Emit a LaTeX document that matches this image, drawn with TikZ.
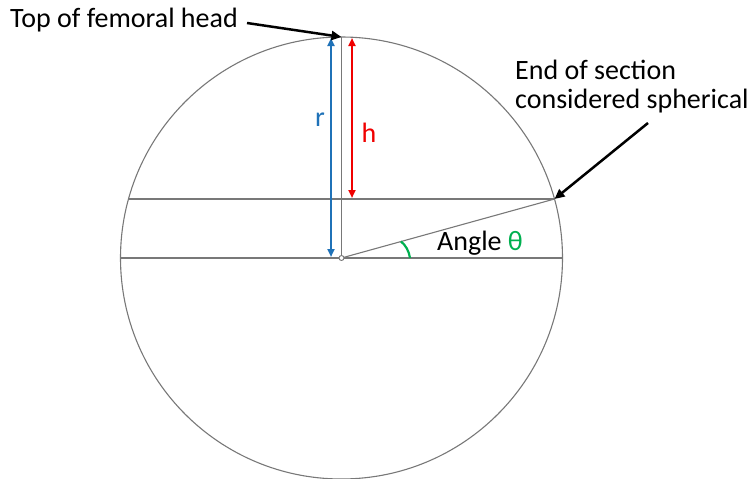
\documentclass[tikz,border=0pt]{standalone}
\usepackage{fontspec}
\setmainfont{Carlito}
\usetikzlibrary{arrows.meta}
\definecolor{lgray}{RGB}{120,120,120}
\definecolor{oblue}{RGB}{31,114,184}
\definecolor{ored}{RGB}{240,0,0}
\definecolor{ogreen}{RGB}{0,176,80}
\tikzset{
  thin gray/.style={draw=lgray, line width=1.1pt},
  dim/.style={line width=2.2pt, {Triangle[length=8pt,width=7pt]}-{Triangle[length=8pt,width=7pt]}},
  pointer/.style={line width=2.5pt, -{Triangle[length=10pt,width=9pt]}},
  lab/.style={font=\fontsize{28}{29}\selectfont, inner sep=0pt}
}
\begin{document}
\begin{tikzpicture}[x=1pt,y=-1pt]
\useasboundingbox (0,0) rectangle (748,479);
\coordinate (O) at (341.5,258);
\coordinate (T) at (341.5,37);
\coordinate (L) at (120.5,258);
\coordinate (R) at (562.5,258);
\coordinate (CL) at (128.5,199);
\coordinate (E) at (554.5,199);
% circle
\draw[thin gray] (O) circle (221);
% chords and lines
\draw[thin gray] (L) -- (R);
\draw[thin gray] (CL) -- (E);
\draw[thin gray] (O) -- (T);
\draw[thin gray] (O) -- (E);
% angle arc
\coordinate (a1) at (401,241.5);
\coordinate (a2) at (410,258);
\draw[ogreen, line width=2.2pt] (a1) .. controls (405.5,245) and (409,251) .. (a2);
% dimension arrows
\coordinate (rb) at (331,257);
\coordinate (rt) at (331,38);
\coordinate (hb) at (352,198);
\coordinate (ht) at (352,38);
\draw[dim, oblue] (rb) -- (rt);
\draw[dim, ored] (hb) -- (ht);
\node[lab, text=oblue] (r) at (320,120) {r};
\node[lab, text=ored] (h) at (369,133) {h};
% center dot
\draw[lgray, fill=white, line width=0.9pt] (O) circle (2.5);
% angle label
\node[lab, anchor=west] (ang) at (437,243) {Angle \textcolor{ogreen}{θ}};
% top label
\node[lab, anchor=west] (top) at (10,20) {Top of femoral head};
\coordinate (topstart) at (247,23);
\draw[pointer] (topstart) -- (T);
% end label
\node[lab, anchor=west, align=left] (end) at (515,87) {End of section\\considered spherical};
\coordinate (endstart) at (648,123);
\draw[pointer] (endstart) -- (E);
\end{tikzpicture}
\end{document}
